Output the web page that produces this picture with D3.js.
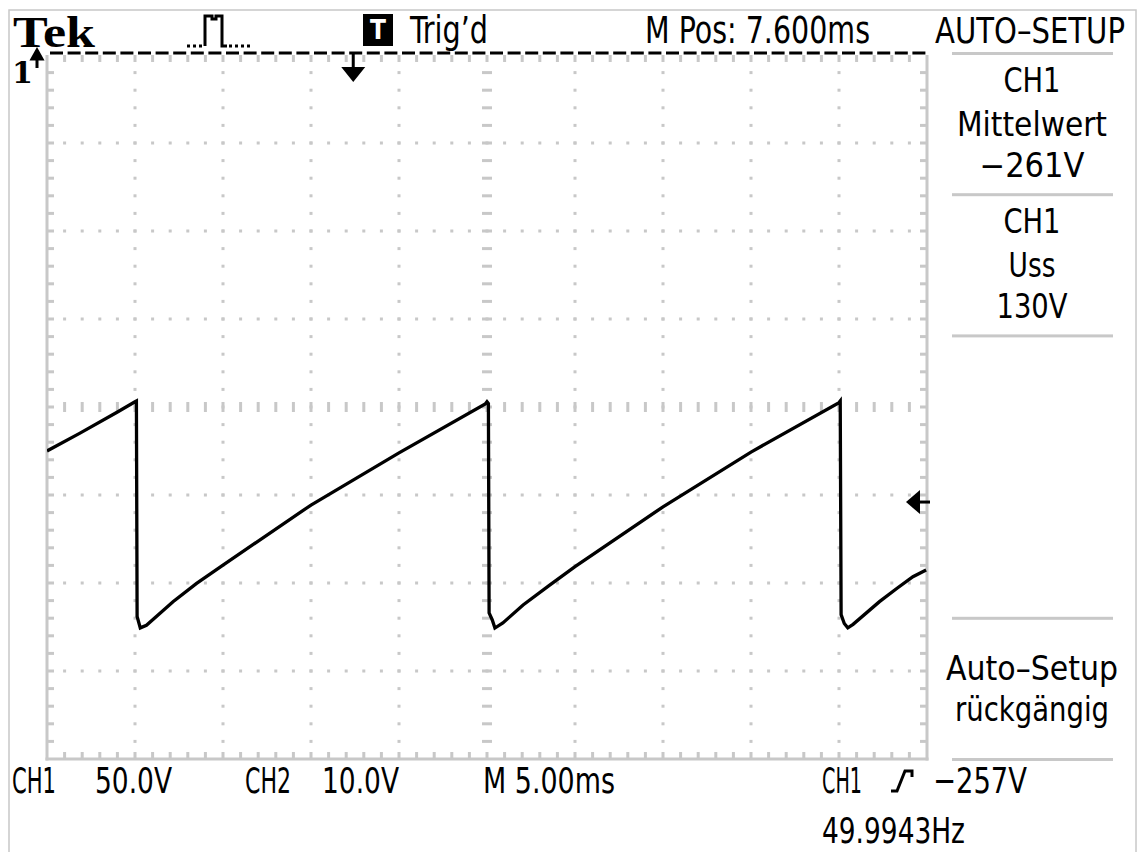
<!DOCTYPE html>
<html>
<head>
<meta charset="utf-8">
<script src="https://cdn.jsdelivr.net/npm/d3@7"></script>
<style>
    body { margin: 0; background: #fff; }
    text { font-family: "Liberation Sans Narrow", "DejaVu Sans Condensed", "Liberation Sans", sans-serif; fill: #000; }
</style>
</head>
<body>
<div id="wrapper"></div>
<script>
/*global d3*/

// CH1 trace, time in ms from the left edge of the screen, volts
const traceTime = [0, 1.85, 3.98, 5.0, 5.08, 5.12, 5.3, 5.65, 7.16, 8.5, 10.0, 15.0, 20.0, 24.9,
    25.0, 25.08, 25.12, 25.3, 25.45, 25.9, 27.05, 28.58, 30.0, 35.0, 40.0, 45.0, 45.07,
    45.12, 45.3, 45.5, 45.8, 47.3, 48.3, 49.2, 49.95]
const traceVolts = [-228, -218, -206, -200, -199.6, -322, -328.5, -327, -313.6, -303.2, -292.8, -258.7, -229.1, -201.3,
    -200, -201, -320, -324, -328.6, -325.7, -315.5, -304.1, -293.7, -259.7, -228.6, -200.5, -199.6,
    -321, -326, -328.5, -326.5, -313.6, -306, -299.4, -295.6]

const msPerDiv = 5
const voltsPerDiv = 50
const topVolts = -3          // value at the top graticule line
const triggerLevel = -257
const mPos = 7.6             // trigger sits mPos ms left of screen centre

const headerLabels = ["Trig’d", "M Pos: 7.600ms", "AUTO–SETUP"]
const menuLabels = [
    ["CH1", "Mittelwert", "−261V"],
    ["CH1", "Uss", "130V"],
    [], [],
    ["Auto–Setup", "rückgängig"],
]
const footerLabels = ["CH1", "50.0V", "CH2", "10.0V", "M 5.00ms", "CH1", "−257V", "49.9943Hz"]

async function drawScope() {

    const dims = {
        width: 1140,
        height: 852,
        left: 47,
        top: 55,
        div: 88,
    }
    dims.right = dims.left + 10 * dims.div
    dims.bottom = dims.top + 8 * dims.div

    const grey = "#c8c8c8"

    const svg = d3.select("#wrapper")
        .append("svg")
        .attr("width", dims.width)
        .attr("height", dims.height)

    // outer frame
    svg.append("rect")
        .attr("x", 9).attr("y", 10)
        .attr("width", 1127).attr("height", 860)
        .attr("fill", "none")
        .attr("stroke", grey)
        .attr("stroke-width", 1.5)

    // scales
    const xScale = d3.scaleLinear()
        .domain([0, 10 * msPerDiv])
        .range([dims.left, dims.right])

    const yScale = d3.scaleLinear()
        .domain([topVolts - 8 * voltsPerDiv, topVolts])
        .range([dims.bottom, dims.top])

    const majorT = d3.range(0, 10 * msPerDiv + 0.01, msPerDiv)
    const minorT = d3.range(0, 10 * msPerDiv + 0.01, msPerDiv / 5)
    const majorV = d3.range(topVolts - 8 * voltsPerDiv, topVolts + 0.01, voltsPerDiv)
    const minorV = d3.range(topVolts - 8 * voltsPerDiv, topVolts + 0.01, voltsPerDiv / 5)
    const centreT = 5 * msPerDiv
    const centreV = topVolts - 4 * voltsPerDiv

    const grid = svg.append("g").attr("fill", grey)

    // dotted graticule
    majorT.slice(1, -1).filter(t => t !== centreT).forEach(t => {
        grid.selectAll(null).data(minorV.slice(1, -1)).join("rect")
            .attr("x", xScale(t) - 1.5).attr("y", d => yScale(d) - 1.5)
            .attr("width", 3).attr("height", 3)
    })
    majorV.slice(1, -1).filter(v => Math.abs(v - centreV) > 0.01).forEach(v => {
        grid.selectAll(null).data(minorT.slice(1, -1)).join("rect")
            .attr("x", d => xScale(d) - 1.5).attr("y", yScale(v) - 1.5)
            .attr("width", 3).attr("height", 3)
    })

    // centre cross with minor ticks
    grid.selectAll(null).data(minorT.slice(1, -1)).join("rect")
        .attr("x", d => xScale(d) - 1.5).attr("y", yScale(centreV) - 5)
        .attr("width", 3).attr("height", 10)
    grid.selectAll(null).data(minorV.slice(1, -1)).join("rect")
        .attr("x", xScale(centreT) - 5).attr("y", d => yScale(d) - 1.5)
        .attr("width", 10).attr("height", 3)

    // edges
    grid.append("rect")
        .attr("x", dims.left - 1.5).attr("y", dims.top)
        .attr("width", 3).attr("height", dims.bottom - dims.top + 1.5)
    grid.append("rect")
        .attr("x", dims.right - 1.5).attr("y", dims.top)
        .attr("width", 3).attr("height", dims.bottom - dims.top + 1.5)
    grid.append("rect")
        .attr("x", dims.left - 1.5).attr("y", dims.bottom - 1.5)
        .attr("width", dims.right - dims.left + 3).attr("height", 3)

    grid.selectAll(null).data(minorV.slice(1, -1)).join("rect")
        .attr("x", dims.left).attr("y", d => yScale(d) - 1.5)
        .attr("width", 7).attr("height", 3)
    grid.selectAll(null).data(minorV.slice(1, -1)).join("rect")
        .attr("x", dims.right - 7).attr("y", d => yScale(d) - 1.5)
        .attr("width", 7).attr("height", 3)
    grid.selectAll(null).data(minorT.slice(1, -1)).join("rect")
        .attr("x", d => xScale(d) - 1.5).attr("y", dims.bottom - 7)
        .attr("width", 3).attr("height", 7)
    grid.selectAll(null).data(minorT.slice(1, -1)).join("rect")
        .attr("x", d => xScale(d) - 1.5).attr("y", dims.top)
        .attr("width", 3).attr("height", 7)

    // black dashed top edge
    svg.append("line")
        .attr("x1", dims.left).attr("x2", dims.right)
        .attr("y1", dims.top - 2).attr("y2", dims.top - 2)
        .attr("stroke", "#000")
        .attr("stroke-width", 3)
        .attr("stroke-dasharray", "13 4.6")
        .attr("stroke-dashoffset", -3)

    // menu separators
    svg.append("g").attr("fill", grey)
        .selectAll("rect")
        .data([0, 1, 2, 4, 5])
        .join("rect")
        .attr("x", 952).attr("y", d => 52 + d * 141.2)
        .attr("width", 161).attr("height", 3)

    // trace
    svg.append("clipPath").attr("id", "plot")
        .append("rect")
        .attr("x", dims.left).attr("y", dims.top - 2)
        .attr("width", dims.right - dims.left + 2).attr("height", dims.bottom - dims.top + 4)

    const lineGenerator = d3.line()
        .x((d, i) => xScale(traceTime[i]))
        .y(d => yScale(d))

    svg.append("path")
        .attr("d", lineGenerator(traceVolts))
        .attr("clip-path", "url(#plot)")
        .attr("fill", "none")
        .attr("stroke", "#000")
        .attr("stroke-width", 3.3)
        .attr("stroke-linejoin", "miter")

    // trigger position marker
    const tx = xScale(centreT - mPos)
    svg.append("rect")
        .attr("x", tx - 1.5).attr("y", dims.top - 2)
        .attr("width", 3).attr("height", 15)
    svg.append("path")
        .attr("d", `M${tx - 12},${dims.top + 12} L${tx + 12},${dims.top + 12} L${tx},${dims.top + 27} Z`)

    // trigger level marker
    const ty = yScale(triggerLevel)
    svg.append("rect")
        .attr("x", dims.right - 10).attr("y", ty - 1.5)
        .attr("width", 13).attr("height", 3)
    svg.append("path")
        .attr("d", `M${dims.right - 21},${ty} L${dims.right - 7},${ty - 12} L${dims.right - 7},${ty + 12} Z`)

    // channel 1 marker (ground above screen)
    svg.append("text")
        .attr("x", 12).attr("y", 83)
        .style("font-family", "'DejaVu Serif', serif")
        .style("font-weight", "bold")
        .style("font-size", "30px")
        .attr("textLength", 21)
        .attr("lengthAdjust", "spacingAndGlyphs")
        .text("1")
    svg.append("path")
        .attr("d", "M37,68 V56 M32,59 L37,50 L42,59 Z")
        .attr("stroke", "#000")
        .attr("stroke-width", 3)

    // header
    svg.append("text")
        .attr("x", 13).attr("y", 47)
        .style("font-family", "'Liberation Serif', 'DejaVu Serif', serif")
        .style("font-weight", "bold")
        .style("font-size", "44px")
        .attr("textLength", 82)
        .attr("lengthAdjust", "spacingAndGlyphs")
        .text("Tek")

    svg.append("path")
        .attr("d", "M205,46 V16 H212 V19 H216 V16 H222 V46 H227")
        .attr("fill", "none")
        .attr("stroke", "#000")
        .attr("stroke-width", 3)
    svg.append("path")
        .attr("d", "M187,46 H204 M229,46 H250")
        .attr("stroke", "#000")
        .attr("stroke-width", 3)
        .attr("stroke-dasharray", "3 3")

    svg.append("rect")
        .attr("x", 363).attr("y", 14)
        .attr("width", 30).attr("height", 32)
    svg.append("text")
        .attr("x", 378).attr("y", 39)
        .attr("text-anchor", "middle")
        .style("font-weight", "bold")
        .style("font-size", "26px")
        .style("fill", "#fff")
        .text("T")

    // [x, textLength, anchor, size]
    const headerPos = [[410, 78, "start", 37], [645, 225, "start", 37], [1125, 190, "end", 35]]
    svg.selectAll(null).data(headerLabels).join("text")
        .attr("x", (d, i) => headerPos[i][0]).attr("y", 43)
        .attr("text-anchor", (d, i) => headerPos[i][2])
        .style("font-size", (d, i) => headerPos[i][3] + "px")
        .attr("textLength", (d, i) => headerPos[i][1])
        .attr("lengthAdjust", "spacingAndGlyphs")
        .text(d => d)

    // side menu
    const menuWidths = [[57, 150, 105], [57, 47, 71], [], [], [172, 154]]
    const menuBase = [[92, 136, 177], [233, 277, 318], [], [], [680, 721]]
    menuLabels.forEach((slot, s) => {
        svg.selectAll(null).data(slot).join("text")
            .attr("x", 1032).attr("y", (d, i) => menuBase[s][i])
            .attr("text-anchor", "middle")
            .style("font-size", "33px")
            .attr("textLength", (d, i) => menuWidths[s][i])
            .attr("lengthAdjust", "spacingAndGlyphs")
            .text(d => d)
    })

    // footer
    const footerPos = [[12, 793, 44], [95, 793, 77], [245, 793, 46], [322, 793, 77],
        [483, 793, 132], [822, 793, 40], [933, 793, 94], [822, 843, 143]]
    svg.selectAll(null).data(footerLabels).join("text")
        .attr("x", (d, i) => footerPos[i][0]).attr("y", (d, i) => footerPos[i][1])
        .style("font-size", "36px")
        .attr("textLength", (d, i) => footerPos[i][2])
        .attr("lengthAdjust", "spacingAndGlyphs")
        .text(d => d)

    // rising slope symbol
    svg.append("path")
        .attr("d", "M891,791 H897 L905,771 H912 V777")
        .attr("fill", "none")
        .attr("stroke", "#000")
        .attr("stroke-width", 3)
}

drawScope()
</script>
</body>
</html>
